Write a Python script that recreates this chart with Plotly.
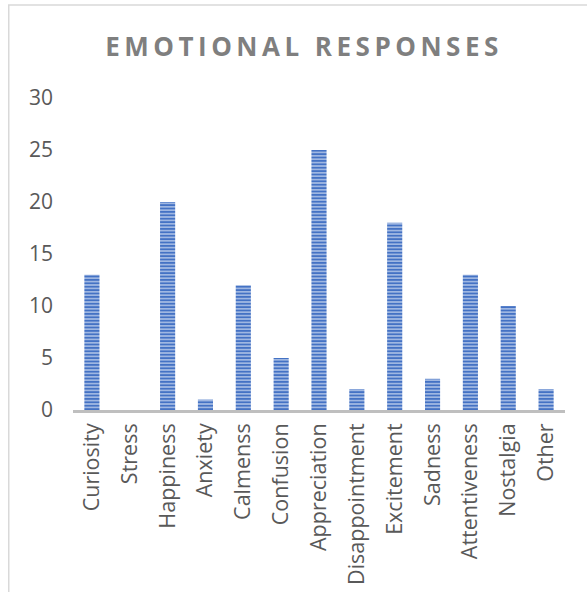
import plotly.graph_objects as go

categories = ["Curiosity", "Stress", "Happiness", "Anxiety", "Calmenss", "Confusion",
              "Appreciation", "Disappointment", "Excitement", "Sadness",
              "Attentiveness", "Nostalgia", "Other"]
values = [13, 0, 20, 1, 12, 5, 25, 2, 18, 3, 13, 10, 2]
y_ticks = [0, 5, 10, 15, 20, 25, 30]
title_text = "EMOTIONAL RESPONSES"

fig = go.Figure(go.Bar(
    x=categories, y=values,
    marker=dict(
        color="#8faadc",
        line=dict(width=0),
        pattern=dict(shape="-", fgcolor="#4472c4", bgcolor="#a9bfe6",
                     size=3.4, solidity=0.55, fillmode="replace"),
    ),
))

L, R, T, B = 73, 22, 98, 182
fig.update_layout(
    width=587, height=592,
    margin=dict(l=L, r=R, t=T, b=B, autoexpand=False),
    paper_bgcolor="white", plot_bgcolor="white",
    bargap=0.6,
    showlegend=False,
    font=dict(family="Open Sans", color="#595959", size=15),
    title=dict(text="<b>" + title_text + "</b>", x=304 / 587, xanchor="center",
               y=1 - 47 / 592, yanchor="middle",
               font=dict(family="Open Sans", size=26, color="#7f7f7f")),
    xaxis=dict(showgrid=False, showline=True, linecolor="#bfbfbf", linewidth=2.5,
               tickangle=-90, ticks="", tickfont=dict(size=21.5, color="#595959"),
               ticklabelstandoff=2, automargin=False),
    yaxis=dict(range=[0, 30], tickvals=y_ticks, showgrid=False, showline=False,
               zeroline=False, ticks="", tickfont=dict(size=21, color="#595959"),
               ticklabelstandoff=19, automargin=False),
)

W, H = 490, 312
def px2x(px):
    return (px - L) / W
def py2y(py):
    return (H + T - py) / H

fig.add_shape(type="rect", xref="paper", yref="paper",
              x0=px2x(9), x1=px2x(620), y0=py2y(620), y1=py2y(5),
              line=dict(color="#d9d9d9", width=1.5), layer="below")

post = """
var t = document.querySelector('.gtitle');
if (t) { t.style.letterSpacing = '4.5px'; }
"""
fig.write_html("out.html", post_script=post)
